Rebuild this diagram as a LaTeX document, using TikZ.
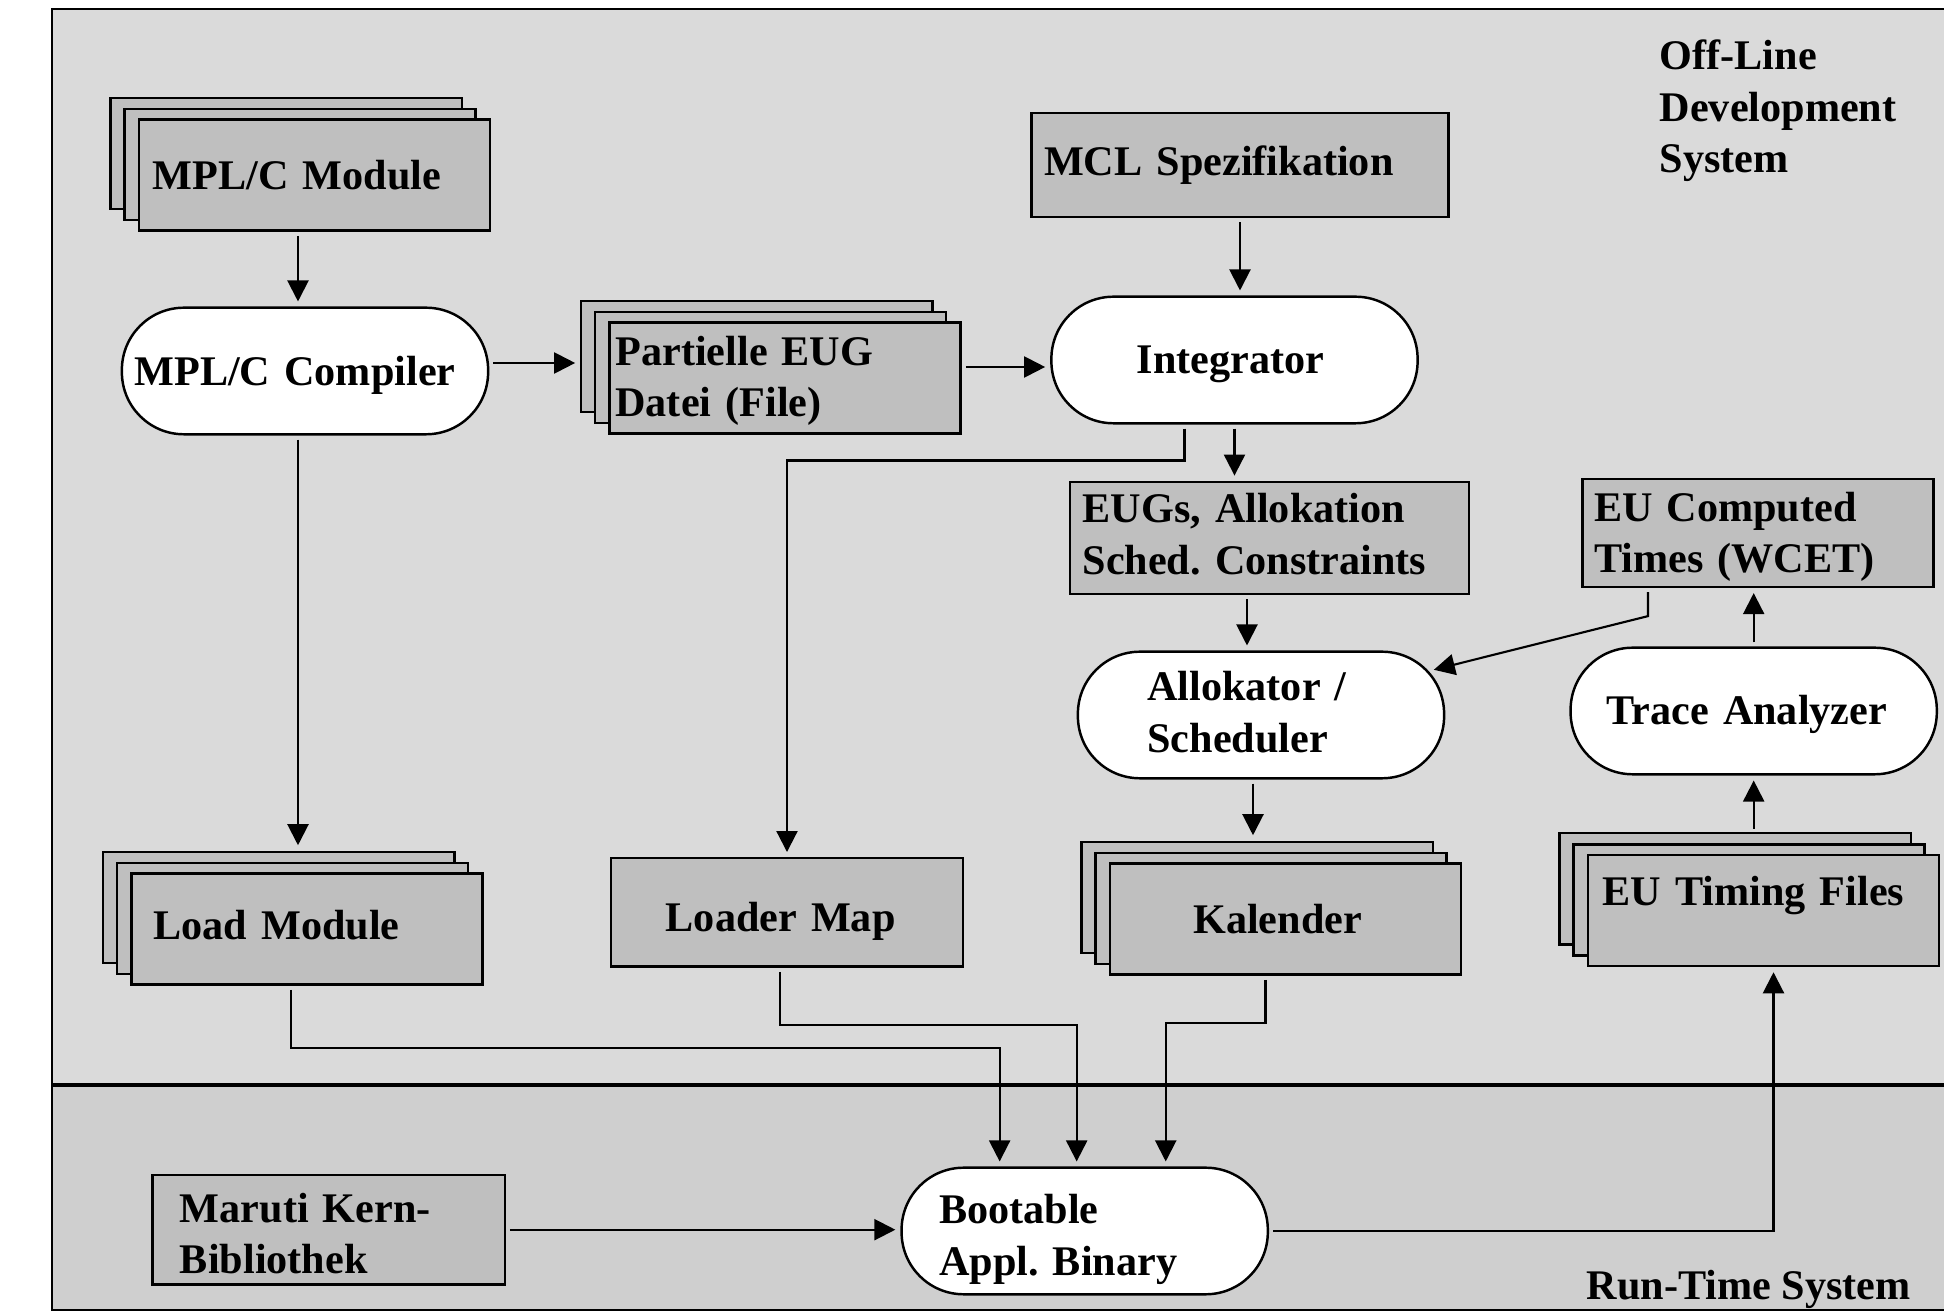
\documentclass[tikz,border=0pt]{standalone}
\usepackage{fontspec}
\setmainfont{Liberation Serif}
\frenchspacing
\usetikzlibrary{arrows.meta,shadows,calc}

\definecolor{offlinegray}{gray}{0.855}
\definecolor{runtimegray}{gray}{0.81}
\definecolor{boxgray}{gray}{0.75}

\begin{document}
\begin{tikzpicture}
[x=0.01cm,y=-0.01cm,
 every node/.style={font=\fontsize{12}{14.7}\selectfont\bfseries},
 plainbox/.style={rectangle,draw,fill=boxgray,line width=0.7pt,inner ysep=0},
 stackbox/.style={plainbox,minimum width=3.51cm,minimum height=1.11cm,
   copy shadow={shadow xshift=-0.283cm,shadow yshift=0.217cm},
   copy shadow={shadow xshift=-0.145cm,shadow yshift=0.106cm}},
 stadium/.style={rectangle,rounded corners=0.62cm,draw,fill=white,line width=0.7pt,
   inner ysep=0,minimum width=3.66cm,minimum height=1.265cm,text height=0.37cm},
 arr/.style={-{Triangle[length=0.21cm,width=0.21cm]},line width=0.6pt,
   shorten >=0.05cm,shorten <=0.04cm}]
\useasboundingbox (0,0) rectangle (1944,1313);

% the two systems
\fill[offlinegray] (52,9) rectangle (1960,1085);
\fill[runtimegray] (52,1085) rectangle (1960,1310);
\draw[line width=0.6pt] (52,9) rectangle (1960,1310);
\draw[line width=1.2pt] (52,1085) -- (1960,1085);

\node[anchor=north west,inner sep=0,align=left] (offlbl) at (1659,39) {Off-Line\\Development\\System};
\node[anchor=base west,inner sep=0] (rtlbl) at (1586,1300) {Run-Time System};

% tools and files
\node[stackbox,inner xsep=0.14cm,text width=3.23cm,align=left] (mplmod) at (314.5,175) {MPL/C Module};
\node[stadium,inner xsep=0.125cm,text width=3.41cm,align=left] (comp) at (305,371) {MPL/C Compiler};
\node[stackbox,inner xsep=0.06cm,text width=3.39cm,align=left,text height=0.35cm] (part) at (785,378) {Partielle EUG\\Datei (File)};
\node[plainbox,minimum height=1.04cm,inner xsep=0.125cm,text width=3.915cm,align=left] (mcl) at (1240,165) {MCL Spezifikation};
\node[stadium,inner xsep=0.853cm,text width=1.954cm,align=left] (integ) at (1234.5,360) {Integrator};
\node[plainbox,minimum height=1.123cm,inner xsep=0.127cm,text width=3.736cm,align=left,text height=0.22cm] (eugs) at (1269.5,538) {EUGs, Allokation\\Sched. Constraints};
\node[stadium,inner xsep=0.694cm,text width=2.272cm,align=left,text height=0.24cm] (allo) at (1261,715) {Allokator /\\Scheduler};
\node[plainbox,minimum height=1.077cm,inner xsep=0.117cm,text width=3.276cm,align=left,text height=0.37cm] (wcet) at (1758,533) {EU Computed\\Times (WCET)};
\node[stadium,inner xsep=0.36cm,text width=2.94cm,align=left] (trace) at (1753.7,711) {Trace Analyzer};
\node[stackbox,inner xsep=0.22cm,text width=3.07cm,align=left,text height=0.21cm] (loadmod) at (307,929) {Load Module};
\node[plainbox,minimum width=3.523cm,minimum height=1.084cm,inner xsep=0.55cm,text width=2.423cm,align=left,text height=0.38cm,text depth=0cm] (lmap) at (787,912.5) {Loader Map};
\node[stackbox,inner xsep=0.833cm,text width=1.844cm,align=left] (kal) at (1285.5,919) {Kalender};
\node[stackbox,inner xsep=0.147cm,text width=3.216cm,align=left,text height=0.29cm,text depth=0.38cm] (timing) at (1763.5,910.5) {EU Timing Files};
\node[stadium,inner xsep=0.376cm,text width=2.908cm,align=left,text height=0.46cm] (boot) at (1084.7,1231) {Bootable\\Appl. Binary};
\node[plainbox,minimum height=1.093cm,inner xsep=0.273cm,text width=2.973cm,align=left,text height=0.37cm] (maruti) at (328.7,1229.7) {Maruti Kern-\\Bibliothek};

% connectors
\foreach \a/\b in {mcl.south/integ.north,integ.south/eugs.north,trace.north/wcet.south}
\draw[arr] (\a) -- (\a |- \b);
\draw[arr] ($(mplmod.south -| comp.north)+(-7,0)$) -- ($(comp.north)+(-7,0)$);
\draw[arr] ($(comp.south)+(-7,0)$) -- ($(comp.south |- loadmod.north)+(-7,-22)$);
\draw[arr] ($(comp.east)+(0,-8)$) -- ($(comp.east -| part.west)+(-28,-8)$);
\draw[arr] ($(integ.west -| part.east)+(0,7)$) -- ($(integ.west)+(0,7)$);
\draw[arr] ([xshift=-0.5cm]integ.south) -- ++(0,36) -| (lmap.north);
\draw[arr] ($(allo.north |- eugs.south)+(-14,0)$) -- ($(allo.north)+(-14,0)$);
\draw[arr] ($(allo.south)+(-8,0)$) -- ($(allo.south |- kal.north)+(-8,-22)$);
\draw[arr] ($(wcet.south)+(-110,0)$) -- ++(0,28) -- ($(allo.center)+(168,-44)$);
\draw[arr] ($(trace.south |- timing.north)+(0,-21)$) -- (trace.south);
\draw[arr] (boot.east) -| ([xshift=0.1cm]timing.south);
\draw[arr] (maruti.east) -- (maruti.east -| boot.west);
\draw[arr] ([xshift=-0.16cm]loadmod.south) -- ++(0,62) -| ([xshift=-0.85cm]boot.north);
\draw[arr] ([xshift=-0.07cm]lmap.south) -- ++(0,57) -| ([xshift=-0.08cm]boot.north);
\draw[arr] ([xshift=-0.2cm]kal.south) -- ++(0,47) -| ([xshift=0.81cm]boot.north);
\end{tikzpicture}
\end{document}
